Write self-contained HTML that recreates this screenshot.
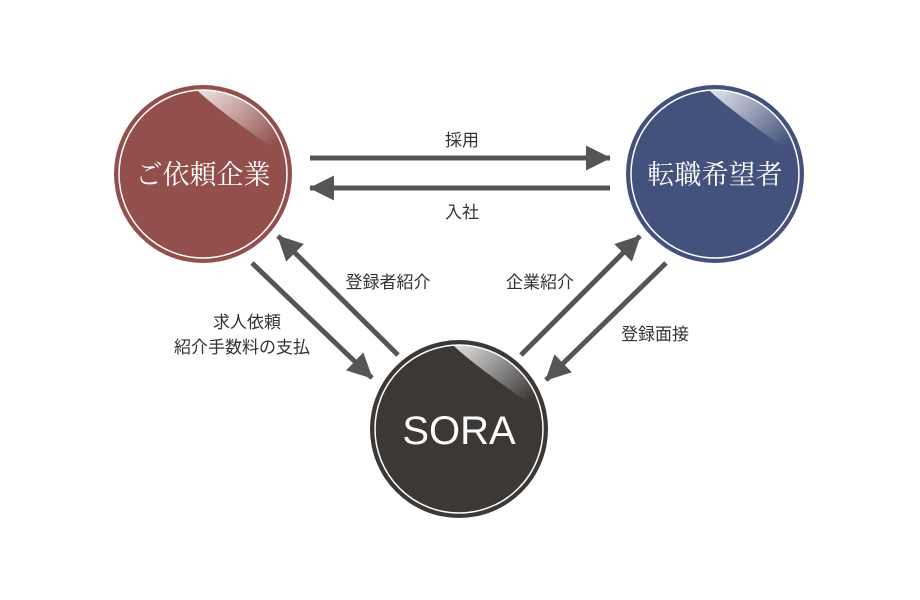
<!DOCTYPE html><html><head><meta charset="utf-8"><style>body{margin:0;background:#fff}svg{display:block}text{font-family:"Liberation Sans","Noto Sans CJK JP",sans-serif}</style></head><body>
<svg width="920" height="600" viewBox="0 0 920 600">
<defs>
<marker id="a" markerWidth="5" markerHeight="5" refX="4.8" refY="2.5" orient="auto" markerUnits="strokeWidth"><path d="M0,0 L5,2.5 L0,5Z" fill="#555"/></marker>
<linearGradient id="h" x1="0" y1="0.2" x2="1" y2="0.9"><stop offset="0" stop-color="#fff" stop-opacity="0.85"/><stop offset="0.35" stop-color="#fff" stop-opacity="0.5"/><stop offset="0.8" stop-color="#fff" stop-opacity="0"/></linearGradient>
<clipPath id="c1"><circle cx="203" cy="174" r="84"/></clipPath>
<clipPath id="c2"><circle cx="715" cy="174" r="84"/></clipPath>
<clipPath id="c3"><circle cx="459" cy="429" r="84"/></clipPath>
</defs>
<g stroke="#555" stroke-width="5" fill="none" marker-end="url(#a)">
<line x1="310" y1="158" x2="610" y2="158"/>
<line x1="610" y1="188" x2="310" y2="188"/>
<line x1="252" y1="263" x2="372" y2="378"/>
<line x1="398" y1="355" x2="278" y2="236"/>
<line x1="521" y1="355" x2="640" y2="236"/>
<line x1="666" y1="263" x2="546" y2="380"/>
</g>
<circle cx="203" cy="174" r="89" fill="#924f4b"/><circle cx="203" cy="174" r="84" fill="none" stroke="#fff" stroke-width="1.5"/>
<g clip-path="url(#c1)"><path d="M192,84 Q200,98 290,160 L300,80Z" fill="url(#h)"/></g>
<circle cx="715" cy="174" r="89" fill="#42527c"/><circle cx="715" cy="174" r="84" fill="none" stroke="#fff" stroke-width="1.5"/>
<g clip-path="url(#c2)"><path d="M704,84 Q712,98 802,160 L812,80Z" fill="url(#h)"/></g>
<circle cx="459" cy="429" r="89" fill="#3b3836"/><circle cx="459" cy="429" r="84" fill="none" stroke="#fff" stroke-width="1.5"/>
<g clip-path="url(#c3)"><path d="M448,339 Q456,353 546,415 L556,335Z" fill="url(#h)"/></g>
<text x="203" y="184" font-size="27" fill="#fff" text-anchor="middle" style="font-family:'Liberation Serif','Noto Serif CJK SC',serif">ご依頼企業</text>
<text x="715" y="184" font-size="27" fill="#fff" text-anchor="middle" style="font-family:'Liberation Serif','Noto Serif CJK SC',serif">転職希望者</text>
<text x="459" y="444" font-size="40" fill="#fff" text-anchor="middle">SORA</text>
<g font-size="17" fill="#333" text-anchor="middle">
<text x="462" y="146">採用</text>
<text x="462" y="218">入社</text>
<text x="388" y="288">登録者紹介</text>
<text x="540" y="288">企業紹介</text>
<text x="655" y="340">登録面接</text>
<text x="281" y="328" text-anchor="end">求人依頼</text>
<text x="242" y="353">紹介手数料の支払</text>
</g>
</svg></body></html>
